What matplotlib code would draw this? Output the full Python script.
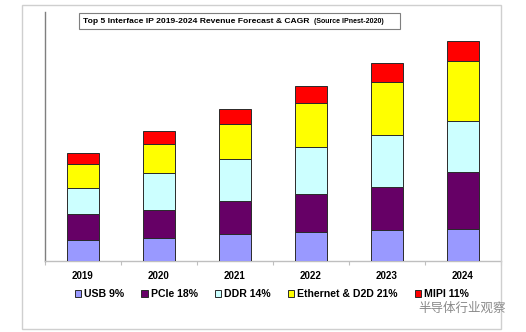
import matplotlib
matplotlib.use("Agg")
import matplotlib.pyplot as plt
from matplotlib.patches import Rectangle, Patch
import numpy as np

years = ["2019", "2020", "2021", "2022", "2023", "2024"]
series_names = ["USB 9%", "PCIe 18%", "DDR 14%", "Ethernet & D2D 21%", "MIPI 11%"]
usb = [21.0, 22.7, 26.7, 29.0, 30.7, 32.0]
pcie = [25.7, 28.3, 33.3, 38.0, 43.6, 57.0]
ddr = [26.0, 37.3, 42.3, 47.3, 51.4, 50.7]
ethernet = [24.0, 28.7, 34.7, 43.7, 53.3, 60.6]
mipi = [11.6, 13.3, 15.0, 17.0, 18.7, 19.7]
colors = ["#9999FF", "#660066", "#CCFFFF", "#FFFF00", "#FF0000"]

W, H = 526, 332
fig = plt.figure(figsize=(W / 100, H / 100), dpi=100)
fig.patch.set_facecolor("white")

# outer border
fig.patches.append(Rectangle((22 / W, 1 - 329 / H), (501 - 22) / W, (329 - 5) / H,
                             transform=fig.transFigure, fill=False,
                             edgecolor="#cfcfcf", lw=1.0))

ax = fig.add_axes([45 / W, 1 - 261 / H, 456 / W, 249 / H])
x = np.arange(len(years))
bottom = np.zeros(len(years))
for vals, c in zip([usb, pcie, ddr, ethernet, mipi], colors):
    ax.bar(x, vals, bottom=bottom, width=0.41, color=c, edgecolor="#2a2a2a", lw=0.7, zorder=3)
    bottom += np.array(vals)

ax.set_xlim(-0.5, len(years) - 0.5)
ax.set_ylim(0, 249)
ax.spines["top"].set_visible(False)
ax.spines["right"].set_visible(False)
ax.spines["left"].set_color("#7f7f7f")
ax.spines["left"].set_linewidth(1.0)
ax.spines["bottom"].set_color("#bfbfbf")
ax.spines["bottom"].set_linewidth(1.0)
ax.set_yticks([])
ax.set_xticks(np.arange(-0.5, len(years) - 0.4, 1.0), minor=False)
ax.set_xticklabels([])
ax.tick_params(axis="x", which="major", length=3, color="#bfbfbf", direction="out")
ax.set_xticks(x, minor=True)
ax.set_xticklabels(years, minor=True, fontsize=7, fontweight="bold", family="Liberation Sans")
ax.tick_params(axis="x", which="minor", length=0, pad=7)

# title box
fig.patches.append(Rectangle((79 / W, 1 - 29 / H), (400 - 79) / W, (29 - 13) / H,
                             transform=fig.transFigure, fill=False,
                             edgecolor="#7f7f7f", lw=0.8))
t1 = fig.text(83 / W, 1 - 21.5 / H, "Top 5 Interface IP 2019-2024 Revenue Forecast & CAGR",
              fontsize=6.1, fontweight="bold", family="Liberation Sans", va="center", ha="left")
fig.canvas.draw()
ext = t1.get_window_extent()
fig.text((ext.x1 + 5) / W, 1 - 21.5 / H, "(Source IPnest-2020)",
         fontsize=5.0, fontweight="bold", family="Liberation Sans", va="center", ha="left")

handles = [Patch(facecolor=c, edgecolor="#2a2a2a", lw=0.7) for c in colors]
leg = fig.legend(handles, series_names, loc="center", bbox_to_anchor=(272 / W, 1 - 294 / H),
                 ncol=5, frameon=False, handlelength=0.6, handleheight=0.6,
                 handletextpad=0.3, columnspacing=1.6,
                 prop={"family": "Liberation Sans", "weight": "bold", "size": 7.6})

fig.text(418 / W, 1 - 308 / H, "半导体行业观察", fontsize=9, color="#8a8a8a",
         family=["Noto Sans CJK SC", "DejaVu Sans"], va="center", ha="left")

fig.savefig("out.png", dpi=100)
